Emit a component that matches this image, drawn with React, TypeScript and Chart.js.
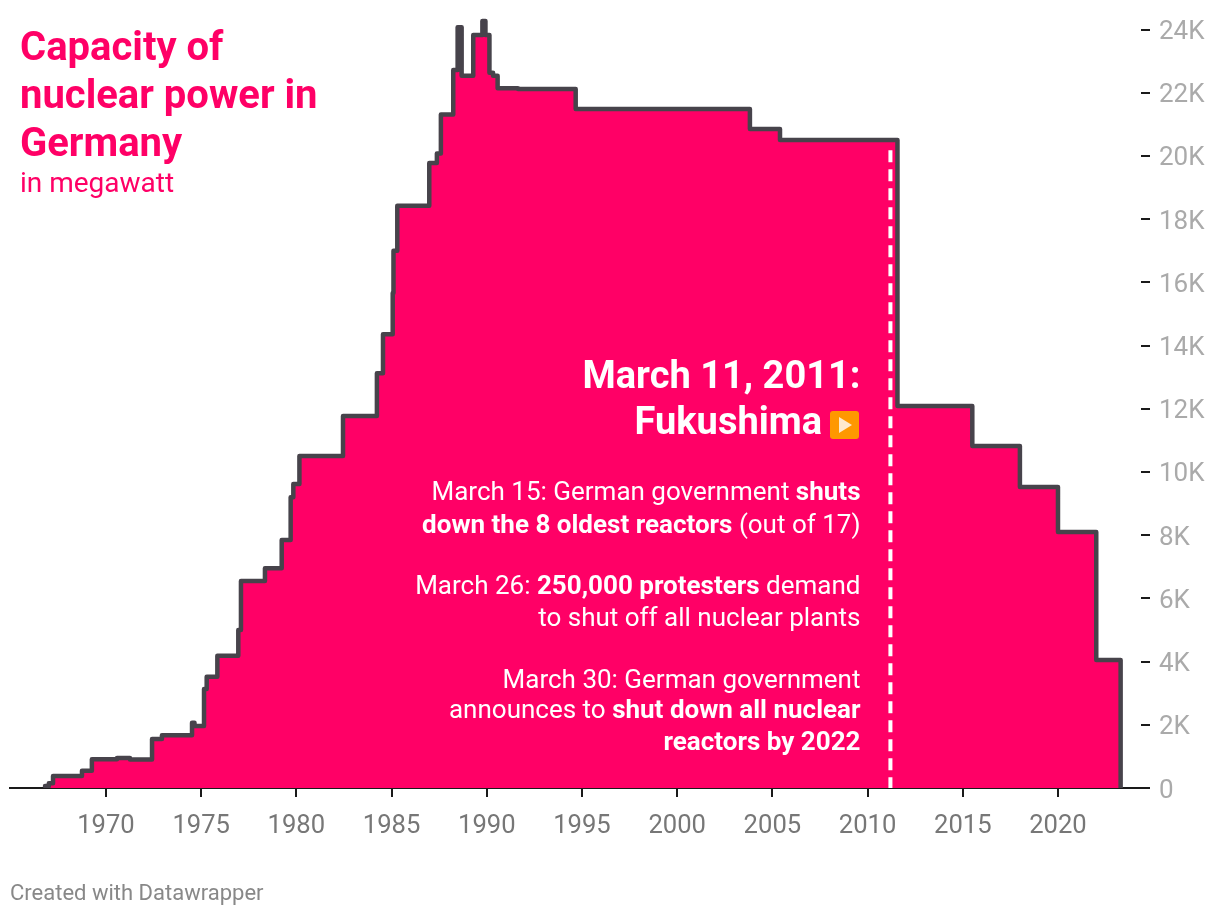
import React, { useEffect, useRef } from "react";
import { Chart, registerables } from "chart.js";

Chart.register(...registerables);

const years = [1966.8, 1967.0, 1967.22, 1968.74, 1969.26, 1970.58, 1971.26, 1972.42, 1972.94, 1974.52, 1974.65, 1975.15, 1975.29, 1975.85, 1976.95, 1977.09, 1978.35, 1979.23, 1979.7, 1979.84, 1980.16, 1982.45, 1984.23, 1984.55, 1985.06, 1985.1, 1985.3, 1986.98, 1987.38, 1987.59, 1988.24, 1988.47, 1988.68, 1989.29, 1989.77, 1989.93, 1990.14, 1990.33, 1990.57, 1991.64, 1994.67, 2003.82, 2005.4, 2011.57, 2015.5, 2018.0, 2020.0, 2022.01, 2023.29];
const capacity = [60, 150, 380, 547, 908, 950, 900, 1550, 1668, 2066, 1962, 3133, 3522, 4187, 5000, 6551, 6953, 7848, 9199, 9620, 10506, 11772, 13123, 14357, 15665, 17003, 18427, 19778, 20079, 21313, 22722, 24073, 22541, 23829, 24272, 23829, 22636, 22541, 22142, 22120, 21487, 20854, 20506, 12089, 10823, 9525, 8101, 4051, 0];

const fukushimaYear = [2011.2, 2011.2];
const fukushimaValue = [0, 20400];

const xTicks = [1970, 1975, 1980, 1985, 1990, 1995, 2000, 2005, 2010, 2015, 2020];
const yTicks = [0, 2000, 4000, 6000, 8000, 10000, 12000, 14000, 16000, 18000, 20000, 22000, 24000];

const titleLines = ["Capacity of", "nuclear power in", "Germany"];
const subtitle = "in megawatt";
const footer = "Created with Datawrapper";

const PINK = "#ff0066";
const FONT = "Roboto, sans-serif";

const Line = ({ top, size, weight, children, lh }: any) => (
  <div
    style={{
      position: "absolute",
      right: 359.5,
      top,
      fontSize: size,
      lineHeight: `${lh}px`,
      fontWeight: weight,
      color: "#fff",
      whiteSpace: "nowrap",
      textAlign: "right",
    }}
  >
    {children}
  </div>
);

const nudgeYLabels = {
  id: "nudgeYLabels",
  beforeDraw(chart: any) {
    chart.scales.y.getLabelItems(chart.chartArea).forEach((item: any) => {
      item.options.translation[1] += 3;
    });
  },
};

export default function App() {
  const ref = useRef<HTMLCanvasElement>(null);
  useEffect(() => {
    const chart = new Chart(ref.current as HTMLCanvasElement, {
      type: "line",
      plugins: [nudgeYLabels],
      data: {
        datasets: [
          {
            data: fukushimaYear.map((x, i) => ({ x, y: fukushimaValue[i] })),
            borderColor: "#ffffff",
            borderWidth: 4,
            borderDash: [12, 7],
            borderDashOffset: 1.3,
            pointRadius: 0,
            fill: false,
            order: 0,
          },
          {
            data: years.map((x, i) => ({ x, y: capacity[i] })),
            stepped: "before",
            borderColor: "#47434b",
            borderWidth: 4.5,
            borderJoinStyle: "round",
            borderCapStyle: "round",
            backgroundColor: PINK,
            fill: "origin",
            pointRadius: 0,
            order: 1,
          },
        ],
      } as any,
      options: {
        animation: false,
        responsive: false,
        events: [],
        layout: { autoPadding: false, padding: { left: 10, top: 10, right: 0, bottom: 0 } },
        plugins: { legend: { display: false }, tooltip: { enabled: false } },
        scales: {
          x: {
            type: "linear",
            bounds: "data",
            min: 1964.96,
            max: 2024.36,
            z: 1,
            afterFit: (s: any) => { s.height = 128; },
            afterBuildTicks: (s: any) => { s.ticks = xTicks.map((value) => ({ value })); },
            border: { display: true, color: "#1a1a1a", width: 2 },
            grid: { drawOnChartArea: false, drawTicks: true, tickLength: 9, color: "#1a1a1a", lineWidth: 2 },
            ticks: {
              color: "#777777",
              font: { family: FONT, size: 25.6 },
              padding: 14,
              maxRotation: 0,
              autoSkip: false,
              callback: (v: any) => String(v),
            },
          },
          y: {
            type: "linear",
            position: "right",
            bounds: "data",
            min: 0,
            max: 24620,
            z: 1,
            afterFit: (s: any) => { s.width = 79; },
            afterBuildTicks: (s: any) => { s.ticks = yTicks.map((value) => ({ value })); },
            border: { display: false },
            grid: { drawOnChartArea: false, drawTicks: true, tickLength: 9, color: "#1a1a1a", lineWidth: 2 },
            ticks: {
              color: "#aaaaaa",
              font: { family: FONT, size: 26, lineHeight: 0.01 },
              padding: 9,
              autoSkip: false,
              callback: (v: any) => (v === 0 ? "0" : `${v / 1000}K`),
            },
          },
        },
      } as any,
    });
    return () => chart.destroy();
  }, []);

  return (
    <div style={{ position: "absolute", left: 0, top: 0, width: 1220, height: 916, overflow: "hidden", fontFamily: FONT, background: "#fff" }}>
      <canvas ref={ref} width={1220} height={916} style={{ display: "block" }} />
      <div style={{ position: "absolute", left: 20, top: 23, color: PINK, fontSize: 40, fontWeight: 700, lineHeight: "48px", whiteSpace: "nowrap" }}>
        {titleLines.map((t) => <div key={t}>{t}</div>)}
      </div>
      <div style={{ position: "absolute", left: 20, top: 166, color: PINK, fontSize: 28, lineHeight: "34px", whiteSpace: "nowrap" }}>{subtitle}</div>

      <Line top={351} size={38} weight={700} lh={48}>March 11, 2011:</Line>
      <div style={{ position: "absolute", right: 398, top: 397, fontSize: 38, lineHeight: "48px", fontWeight: 700, color: "#fff", whiteSpace: "nowrap" }}>Fukushima</div>
      <div style={{ position: "absolute", left: 830, top: 411, width: 29, height: 28, background: "#ff9800", borderRadius: 3 }}>
        <div style={{ position: "absolute", left: 9, top: 6, width: 0, height: 0, borderTop: "8px solid transparent", borderBottom: "8px solid transparent", borderLeft: "13px solid #ffe9cc" }} />
      </div>

      <Line top={475} size={26} weight={400} lh={32}>March 15: German government <b>shuts</b></Line>
      <Line top={508} size={26} weight={400} lh={32}><b>down the 8 oldest reactors</b> (out of 17)</Line>
      <Line top={569} size={26} weight={400} lh={32}>March 26: <b>250,000 protesters</b> demand</Line>
      <Line top={601} size={26} weight={400} lh={32}>to shut off all nuclear plants</Line>
      <Line top={663} size={26} weight={400} lh={32}>March 30: German government</Line>
      <Line top={693} size={26} weight={400} lh={32}>announces to <b>shut down all nuclear</b></Line>
      <Line top={725} size={26} weight={400} lh={32}><b>reactors by 2022</b></Line>

      <div style={{ position: "absolute", left: 10, top: 879, color: "#888888", fontSize: 22, lineHeight: "28px", whiteSpace: "nowrap" }}>{footer}</div>
    </div>
  );
}
